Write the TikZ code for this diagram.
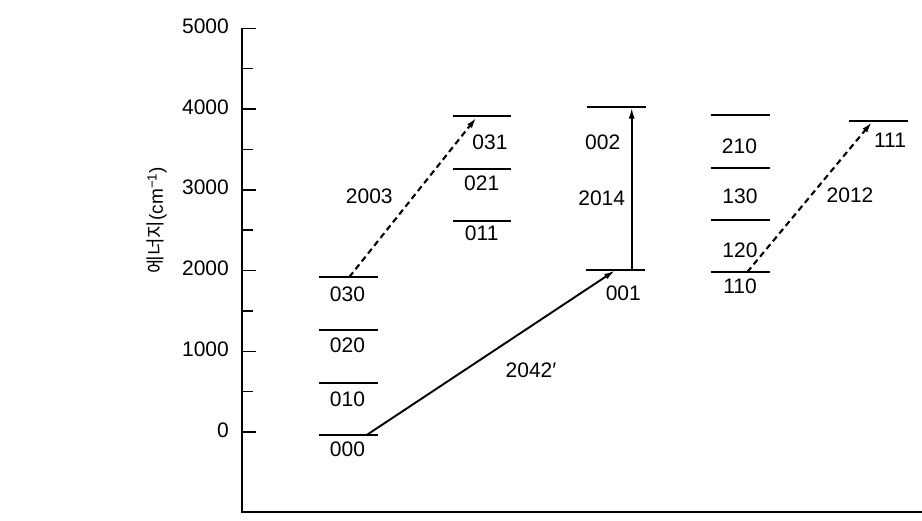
\documentclass[tikz,border=0pt]{standalone}
\usepackage{fontspec}
\setmainfont{Liberation Sans}
\newfontfamily\krfont{Noto Sans CJK KR}
\usetikzlibrary{arrows.meta}
\begin{document}
\begin{tikzpicture}[x=1pt,y=-1pt,
  axisline/.style={line width=1.8pt},
  majtick/.style={line width=1.5pt},
  lev/.style={line width=1.8pt},
  lab/.style={font=\fontsize{21}{24}\selectfont, inner sep=0pt},
  ticklab/.style={font=\fontsize{21}{24}\selectfont, inner sep=0pt, anchor=east},
  solidarrow/.style={line width=1.9pt, -{Latex[length=11pt,width=6pt]}},
  dasharrow/.style={line width=2.1pt, dash pattern=on 6pt off 4pt, -{Latex[length=11pt,width=6pt]}}
]
\useasboundingbox (0,0) rectangle (922,520);
\fill[white] (0,0) rectangle (922,520);

% axes
\coordinate (axtop) at (242,28.3);
\coordinate (axcorner) at (242,512);
\coordinate (axright) at (922,512);
\draw[axisline] (axtop) -- (axcorner) -- (axright);

% ticks
\foreach \k/\lbl in {0/0,1/1000,2/2000,3/3000,4/4000,5/5000}{
  \pgfmathsetmacro{\yy}{432-80.75*\k}
  \draw[majtick] (242,\yy) -- (256,\yy);
  \node[ticklab] (t\k) at (229,\yy-2) {\lbl};
}
\foreach \k in {0,1,2,3,4}{
  \pgfmathsetmacro{\yy}{432-80.75*\k-40.4}
  \draw[majtick] (242,\yy) -- (253,\yy);
}

% axis title
\node[rotate=90, inner sep=0pt] (ytitle) at (157,220)
  {{\krfont\fontsize{19}{22}\selectfont 에너지}{\fontsize{19}{22}\selectfont(cm\textsuperscript{−1})}};

% column 1
\foreach \n/\y in {000/435,010/382.7,020/330,030/277.3}{
  \coordinate (L\n) at (348,\y);
  \draw[lev] (319,\y) -- (377.5,\y);
}
\node[lab] (n000) at (347.5,449.3) {000};
\node[lab] (n010) at (347.5,399) {010};
\node[lab] (n020) at (347.5,345.7) {020};
\node[lab] (n030) at (347.5,294.3) {030};

% column 2
\foreach \n/\y in {031/115.7,021/169,011/221}{
  \coordinate (L\n) at (482,\y);
  \draw[lev] (453,\y) -- (511,\y);
}
\node[lab] (n031) at (490,142.7) {031};
\node[lab] (n021) at (481.7,183.3) {021};
\node[lab] (n011) at (481.7,233.3) {011};

% column 3
\draw[lev] (586.5,107.3) -- (646,107.3);
\draw[lev] (586,270) -- (645,270);
\node[lab] (n002) at (602.7,142.7) {002};
\node[lab] (n001) at (623.3,293.3) {001};

% column 4
\foreach \y in {115,167.7,220,272.3}{
  \draw[lev] (710.5,\y) -- (770,\y);
}
\node[lab] (n210) at (739.5,146.7) {210};
\node[lab] (n130) at (740,196) {130};
\node[lab] (n120) at (740,250.7) {120};
\node[lab] (n110) at (740,286.7) {110};

% column 5
\draw[lev] (849,121) -- (907.5,121);
\node[lab] (n111) at (890,140.7) {111};

% transition endpoints
\coordinate (a000) at (366.7,435);
\coordinate (a001) at (615,270.5);
\coordinate (b030) at (349.3,277);
\coordinate (b031) at (476.5,117.5);
\coordinate (c001) at (631.7,270);
\coordinate (c002) at (631.7,107.5);
\coordinate (d110) at (747.3,272);
\coordinate (d111) at (872,122);

\draw[solidarrow] (a000) -- (a001);
\draw[dasharrow] (b030) -- (b031);
\draw[solidarrow] (c001) -- (c002);
\draw[dasharrow] (d110) -- (d111);

% transition labels
\node[lab] (w2042) at (531,370.7) {2042′};
\node[lab] (w2003) at (369.3,196.7) {2003};
\node[lab] (w2014) at (601.7,198.3) {2014};
\node[lab] (w2012) at (850,195) {2012};
\end{tikzpicture}
\end{document}
